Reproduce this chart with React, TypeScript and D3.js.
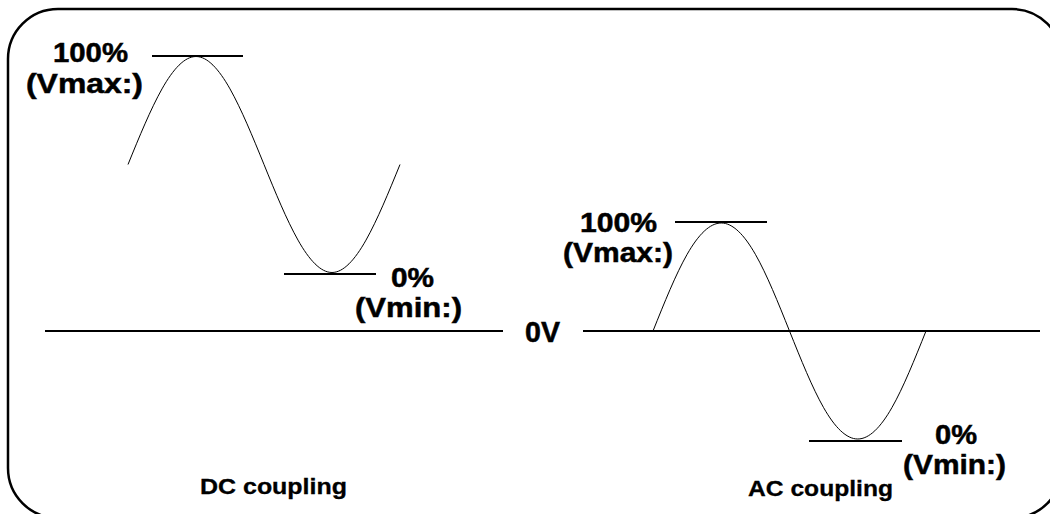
import React from "react";
import * as d3 from "d3";

// Eighths of one period
const phases = [0, 1, 2, 3, 4, 5, 6, 7, 8];
// DC-coupled trace: level in % of the swing (0% = Vmin, 100% = Vmax)
const dcLevels = [50, 85, 100, 85, 50, 15, 0, 15, 50];
// AC-coupled trace: level in % of amplitude around 0V
const acLevels = [0, 71, 100, 71, 0, -71, -100, -71, 0];

const maxLabel = ["100%", "(Vmax:)"];
const minLabel = ["0%", "(Vmin:)"];
const zeroLabel = "0V";
const panelTitles = ["DC coupling", "AC coupling"];

export default function App() {
  const W = 1050;
  const H = 514;

  const dcX = d3.scaleLinear().domain([0, 8]).range([128, 400]);
  const dcY = d3.scaleLinear().domain([0, 100]).range([272.5, 56.5]);
  const acX = d3.scaleLinear().domain([0, 8]).range([653, 926]);
  const acY = d3.scaleLinear().domain([-100, 100]).range([439, 223]);

  const dcLine = d3
    .line<number>()
    .x((_, i) => dcX(phases[i]))
    .y((d) => dcY(d))
    .curve(d3.curveNatural);
  const acLine = d3
    .line<number>()
    .x((_, i) => acX(phases[i]))
    .y((d) => acY(d))
    .curve(d3.curveNatural);

  const zeroY = acY(0);
  const font = "'Liberation Sans', Arial, Helvetica, sans-serif";
  const big = {
    fontFamily: font,
    fontWeight: 700,
    fontSize: 27.5,
    fill: "#000",
    stroke: "#000",
    strokeWidth: 0.5,
  } as const;
  const small = {
    fontFamily: font,
    fontWeight: 700,
    fontSize: 22,
    fill: "#000",
    stroke: "#000",
    strokeWidth: 0.3,
  } as const;

  return (
    <svg
      width={W}
      height={H}
      viewBox={`0 0 ${W} ${H}`}
      style={{ position: "absolute", left: 0, top: 0, background: "#fff" }}
    >
      <rect x={0} y={0} width={W} height={H} fill="#fff" />
      {/* rounded frame */}
      <rect
        x={8}
        y={9}
        width={1054}
        height={509}
        rx={50}
        ry={50}
        fill="none"
        stroke="#000"
        strokeWidth={2.5}
      />

      {/* 0V reference line */}
      <line x1={45} x2={503} y1={zeroY} y2={zeroY} stroke="#000" strokeWidth={2} />
      <line x1={583} x2={1040} y1={zeroY} y2={zeroY} stroke="#000" strokeWidth={2} />
      <text x={525} y={342} textLength={35} lengthAdjust="spacingAndGlyphs" style={{ ...big, fontSize: 29 }}>
        {zeroLabel}
      </text>

      {/* DC trace */}
      <path d={dcLine(dcLevels) || ""} fill="none" stroke="#000" strokeWidth={1} />
      <line x1={152} x2={243} y1={dcY(100) - 0.5} y2={dcY(100) - 0.5} stroke="#000" strokeWidth={1.8} />
      <line x1={284} x2={376} y1={dcY(0) + 1.5} y2={dcY(0) + 1.5} stroke="#000" strokeWidth={1.8} />
      <text x={53} y={62} textLength={75} lengthAdjust="spacingAndGlyphs" style={big}>{maxLabel[0]}</text>
      <text x={26} y={93} textLength={117} lengthAdjust="spacingAndGlyphs" style={big}>{maxLabel[1]}</text>
      <text x={391} y={287} textLength={43} lengthAdjust="spacingAndGlyphs" style={big}>{minLabel[0]}</text>
      <text x={355} y={317} textLength={107} lengthAdjust="spacingAndGlyphs" style={big}>{minLabel[1]}</text>
      <text x={200} y={494} textLength={147} lengthAdjust="spacingAndGlyphs" style={small}>{panelTitles[0]}</text>

      {/* AC trace */}
      <path d={acLine(acLevels) || ""} fill="none" stroke="#000" strokeWidth={1} />
      <line x1={675} x2={767} y1={acY(100) - 1} y2={acY(100) - 1} stroke="#000" strokeWidth={1.8} />
      <line x1={809} x2={902} y1={acY(-100) + 2} y2={acY(-100) + 2} stroke="#000" strokeWidth={1.8} />
      <text x={580} y={232} textLength={77} lengthAdjust="spacingAndGlyphs" style={big}>{maxLabel[0]}</text>
      <text x={563} y={262} textLength={110} lengthAdjust="spacingAndGlyphs" style={big}>{maxLabel[1]}</text>
      <text x={935} y={444} textLength={42} lengthAdjust="spacingAndGlyphs" style={big}>{minLabel[0]}</text>
      <text x={903} y={474} textLength={103} lengthAdjust="spacingAndGlyphs" style={big}>{minLabel[1]}</text>
      <text x={748} y={496} textLength={145} lengthAdjust="spacingAndGlyphs" style={small}>{panelTitles[1]}</text>
    </svg>
  );
}
